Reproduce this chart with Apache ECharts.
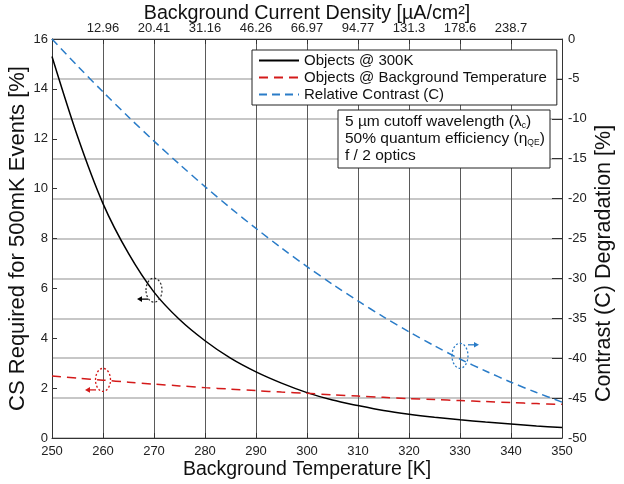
<!DOCTYPE html>
<html><head><meta charset="utf-8">
<script src="https://cdn.jsdelivr.net/npm/echarts@6/dist/echarts.min.js"></script>
<style>html,body{margin:0;padding:0;background:#fff}#c{width:624px;height:484px}</style>
</head><body><div id="c"></div>
<script>
var temps = [250,255,260,265,270,275,280,285,290,295,300,305,310,315,320,325,330,335,340,345,350];
var cs300K = [15.3,12.1,9.4,7.4,5.85,4.75,3.9,3.2,2.65,2.2,1.82,1.52,1.3,1.1,0.95,0.83,0.73,0.64,0.56,0.48,0.42];
var csBg = [2.49,2.4,2.32,2.24,2.16,2.09,2.02,1.96,1.9,1.84,1.79,1.73,1.68,1.63,1.58,1.54,1.5,1.46,1.42,1.38,1.35];
var contrast = [0,-3.37,-6.63,-9.77,-12.8,-15.7,-18.5,-21.18,-23.74,-26.19,-28.52,-30.73,-32.83,-34.82,-36.69,-38.45,-40.1,-41.6,-43.01,-44.3,-45.5];
var topLabels = ['','12.96','20.41','31.16','46.26','66.97','94.77','131.3','178.6','238.7',''];
var legendNames = ['Objects @ 300K','Objects @ Background Temperature','Relative Contrast (C)'];

function pairs(v){ return temps.map(function(t,i){ return [t, v[i]]; }); }
var FONT = 'Liberation Sans';
var chart = echarts.init(document.getElementById('c'), null, {renderer:'canvas'});
var axisLine = {show:true, lineStyle:{color:'#333', width:1}};
var option = {
  animation:false,
  textStyle:{fontFamily:FONT},
  grid:{left:52, right:62, top:39, bottom:46, containLabel:false, outerBoundsMode:'none'},
  legend:{
    orient:'vertical', left:252, top:50, data:legendNames,
    backgroundColor:'#fff', borderColor:'#222', borderWidth:1,
    padding:[3,10,3,6], itemGap:2, itemWidth:40, itemHeight:14,
    itemStyle:{opacity:0},
    textStyle:{fontFamily:FONT, fontSize:15, color:'#111'}
  },
  xAxis:[{
    type:'value', min:250, max:350, interval:10, position:'bottom',
    name:'Background Temperature [K]', nameLocation:'middle', nameGap:22, nameMoveOverlap:false,
    nameTextStyle:{fontSize:19.5, color:'#111', fontFamily:FONT, verticalAlign:'top'},
    axisLine:axisLine, axisTick:{show:true, inside:true, length:5, lineStyle:{color:'#333'}},
    axisLabel:{fontSize:13, color:'#222', margin:7},
    splitLine:{show:true, lineStyle:{color:'#5a5a5a', width:1}}
  },{
    type:'value', min:250, max:350, interval:10, position:'top',
    name:'Background Current Density [µA/cm²]', nameLocation:'middle', nameGap:15, nameMoveOverlap:false,
    nameTextStyle:{fontSize:19.7, color:'#111', fontFamily:FONT, verticalAlign:'bottom'},
    axisLine:axisLine, axisTick:{show:true, inside:true, length:5, lineStyle:{color:'#333'}},
    axisLabel:{fontSize:13, color:'#222', margin:4, formatter:function(v){ return topLabels[Math.round((v-250)/10)]; }},
    splitLine:{show:false}
  }],
  yAxis:[{
    type:'value', min:0, max:16, interval:2, position:'left',
    name:'CS Required for 500mK Events [%]', nameLocation:'middle', nameGap:23, nameRotate:90, nameMoveOverlap:false,
    nameTextStyle:{fontSize:22, color:'#111', fontFamily:FONT},
    axisLine:axisLine, axisTick:{show:true, inside:true, length:5, lineStyle:{color:'#333'}},
    axisLabel:{fontSize:13, color:'#222', margin:4},
    splitLine:{show:false}
  },{
    type:'value', min:-50, max:0, interval:5, position:'right',
    name:'Contrast (C) Degradation [%]', nameLocation:'middle', nameGap:31, nameRotate:90, nameMoveOverlap:false,
    nameTextStyle:{fontSize:21.5, color:'#111', fontFamily:FONT, padding:[0,50,0,0]},
    axisLine:axisLine, axisTick:{show:true, inside:true, length:10, lineStyle:{color:'#333'}},
    axisLabel:{fontSize:13, color:'#222', margin:6},
    splitLine:{show:true, lineStyle:{color:'#b4b4b4', width:1.5}}
  }],
  series:[{
    name:legendNames[0], type:'line', xAxisIndex:0, yAxisIndex:0, data:pairs(cs300K),
    smooth:0.3, symbol:'none', lineStyle:{color:'#000', width:1.5}, itemStyle:{color:'#000'}, z:5
  },{
    name:legendNames[1], type:'line', xAxisIndex:0, yAxisIndex:0, data:pairs(csBg),
    smooth:0.3, symbol:'none', lineStyle:{color:'#d41a1a', width:1.5, type:[9,6]}, itemStyle:{color:'#d41a1a'}, z:5
  },{
    name:legendNames[2], type:'line', xAxisIndex:0, yAxisIndex:1, data:pairs(contrast),
    smooth:0.3, symbol:'none', lineStyle:{color:'#2a7cc8', width:1.5, type:[8,5]}, itemStyle:{color:'#2a7cc8'}, z:5
  }]
};
chart.setOption(option);

function arrow(x1,y1,x2,y2,color){
  var dx = x2-x1, dy = y2-y1, L = Math.sqrt(dx*dx+dy*dy), ux = dx/L, uy = dy/L;
  var hx = x2-ux*5, hy = y2-uy*5;
  return [{
    type:'line', shape:{x1:x1,y1:y1,x2:hx,y2:hy}, style:{stroke:color, lineWidth:1.3}, z:20
  },{
    type:'polygon', shape:{points:[[x2,y2],[hx-uy*2.8,hy+ux*2.8],[hx+uy*2.8,hy-ux*2.8]]}, style:{fill:color}, z:20
  }];
}
var g = [];
var pB = chart.convertToPixel({xAxisIndex:0, yAxisIndex:0}, [270, 5.93]);
var pR = chart.convertToPixel({xAxisIndex:0, yAxisIndex:0}, [260, 2.33]);
var pC = chart.convertToPixel({xAxisIndex:0, yAxisIndex:1}, [330, -39.7]);
g.push({type:'ellipse', shape:{cx:pB[0], cy:pB[1], rx:8, ry:12}, style:{stroke:'#222', fill:null, lineWidth:1.2, lineDash:[2,2]}, z:20});
g = g.concat(arrow(pB[0]-6, pB[1]+9, pB[0]-17, pB[1]+9, '#000'));
g.push({type:'ellipse', shape:{cx:pR[0], cy:pR[1], rx:7.5, ry:11.5}, style:{stroke:'#d41a1a', fill:null, lineWidth:1.3, lineDash:[2,2]}, z:20});
g = g.concat(arrow(pR[0]-7, pR[1]+10, pR[0]-18, pR[1]+10, '#d41a1a'));
g.push({type:'ellipse', shape:{cx:pC[0], cy:pC[1], rx:8, ry:12.5}, style:{stroke:'#2a7cc8', fill:null, lineWidth:1.3, lineDash:[2,2]}, z:20});
g = g.concat(arrow(pC[0]+8, pC[1]-11, pC[0]+19, pC[1]-11, '#2a7cc8'));

// info text box
g.push({type:'rect', shape:{x:338, y:110, width:212, height:58}, style:{fill:'#fff', stroke:'#222', lineWidth:1}, z:20});
g.push({type:'text', x:345, y:113, z:21, style:{
  text:'{n|5 µm cutoff wavelength (λ}{s|c}{n|)}\n{n|50% quantum efficiency (η}{s|QE}{n|)}\n{n|f / 2 optics}',
  fontFamily:FONT, fill:'#111',
  rich:{ n:{fontSize:15.5, lineHeight:17, fontFamily:FONT, fill:'#111'},
         s:{fontSize:8.5, lineHeight:17, fontFamily:FONT, fill:'#111', padding:[8,0,0,0]} }
}});
chart.setOption({graphic:g});
</script></body></html>
